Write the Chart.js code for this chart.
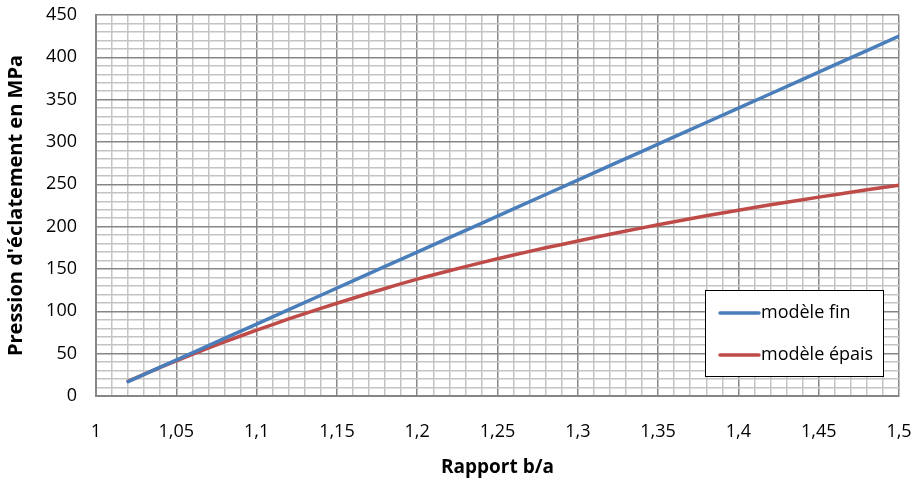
<!DOCTYPE html>
<html>
<head>
<meta charset="utf-8">
<script src="https://cdn.jsdelivr.net/npm/chart.js@4.4.0/dist/chart.umd.min.js"></script>
<style>
  html, body { margin: 0; padding: 0; background: #fff; }
  #wrap { width: 914px; height: 483px; position: relative; }
</style>
</head>
<body>
<div id="wrap"><canvas id="c" width="914" height="483"></canvas></div>
<script>
// Data
const ratios = [1.02, 1.04, 1.06, 1.08, 1.10, 1.12, 1.14, 1.16, 1.18, 1.20, 1.22, 1.24, 1.26,
                1.28, 1.30, 1.32, 1.34, 1.36, 1.38, 1.40, 1.42, 1.44, 1.46, 1.48, 1.50];
const modeleFin = [17, 34, 51, 68, 85, 102, 119, 136, 153, 170, 187, 204, 221,
                   238, 255, 272, 289, 306, 323, 340, 357, 374, 391, 408, 425];
const modeleEpais = [17.4, 33.8, 49.3, 63.9, 77.7, 91, 103.5, 115.5, 127, 138, 148, 157.5, 166.5,
                     175, 183, 191, 198.6, 205.8, 212.8, 219.4, 225.8, 231.9, 237.8, 243.5, 249];
const seriesNames = ['modèle fin', 'modèle épais'];
const xTitle = 'Rapport b/a';
const yTitle = "Pression d'éclatement en MPa";

const FONT = "'Open Sans', 'Liberation Sans', sans-serif";
const MAJOR = '#868686';
const MINOR = '#c4c4c4';

const toPts = (ys) => ratios.map((x, i) => ({ x: x, y: ys[i] }));

const legendBox = {
  id: 'legendBox',
  afterDatasetsDraw(chart) {
    const ctx = chart.ctx;
    const x0 = 705, y0 = 290, w = 178, h = 86;
    ctx.save();
    ctx.fillStyle = '#fff';
    ctx.fillRect(x0, y0, w, h);
    ctx.strokeStyle = '#000';
    ctx.lineWidth = 1;
    ctx.strokeRect(x0 + 0.5, y0 + 0.5, w, h);
    const rows = [313, 355];
    chart.data.datasets.forEach((ds, i) => {
      ctx.strokeStyle = ds.borderColor;
      ctx.lineWidth = 3.5;
      ctx.lineCap = 'round';
      ctx.beginPath();
      ctx.moveTo(720, rows[i]);
      ctx.lineTo(759, rows[i]);
      ctx.stroke();
      ctx.fillStyle = '#000';
      ctx.font = '18px ' + FONT;
      ctx.textBaseline = 'middle';
      ctx.fillText(ds.label, 761, rows[i]);
    });
    ctx.restore();
  }
};

new Chart(document.getElementById('c'), {
  type: 'line',
  data: {
    datasets: [
      { label: seriesNames[0], data: toPts(modeleFin), borderColor: '#4a7ebb', borderWidth: 3.5,
        pointRadius: 0, tension: 0, fill: false, borderCapStyle: 'round' },
      { label: seriesNames[1], data: toPts(modeleEpais), borderColor: '#be4b48', borderWidth: 3.5,
        pointRadius: 0, tension: 0.3, fill: false, borderCapStyle: 'round' }
    ]
  },
  options: {
    responsive: false,
    animation: false,
    layout: { padding: { top: 15, right: 15, left: 0, bottom: 0 } },
    plugins: { legend: { display: false }, tooltip: { enabled: false } },
    scales: {
      x: {
        type: 'linear', min: 1, max: 1.5,
        afterFit(s) { s.height = 87; s.paddingLeft = 0; s.paddingRight = 0; },
        border: { display: true, color: MAJOR, width: 2 },
        grid: {
          drawTicks: false,
          lineWidth: 1.5,
          color: (c) => (Math.round(c.tick.value * 100) % 5 === 0 ? MAJOR : MINOR)
        },
        ticks: {
          stepSize: 0.01, autoSkip: false, maxRotation: 0, padding: 25,
          color: '#000', font: { family: FONT, size: 18 },
          callback: (v) => {
            const k = Math.round(v * 100);
            if (k % 5 !== 0) return '';
            return (k / 100).toString().replace('.', ',');
          }
        },
        title: { display: true, text: xTitle, color: '#000',
                 font: { family: FONT, size: 19, weight: 'bold' }, padding: { top: 0, bottom: 4 } }
      },
      y: {
        min: 0, max: 450,
        afterFit(s) { s.width = 96; s.paddingTop = 0; s.paddingBottom = 0; },
        border: { display: true, color: MAJOR, width: 2 },
        grid: {
          drawTicks: false,
          lineWidth: 1.5,
          color: (c) => (c.tick.value % 50 === 0 ? MAJOR : MINOR)
        },
        ticks: {
          stepSize: 10, autoSkip: false, padding: 19,
          color: '#000', font: { family: FONT, size: 18 },
          callback: (v) => (v % 50 === 0 ? String(v) : '')
        },
        title: { display: true, text: yTitle, color: '#000',
                 font: { family: FONT, size: 20, weight: 'bold' }, padding: { top: 4, bottom: 0 } }
      }
    }
  },
  plugins: [legendBox]
});
</script>
</body>
</html>
